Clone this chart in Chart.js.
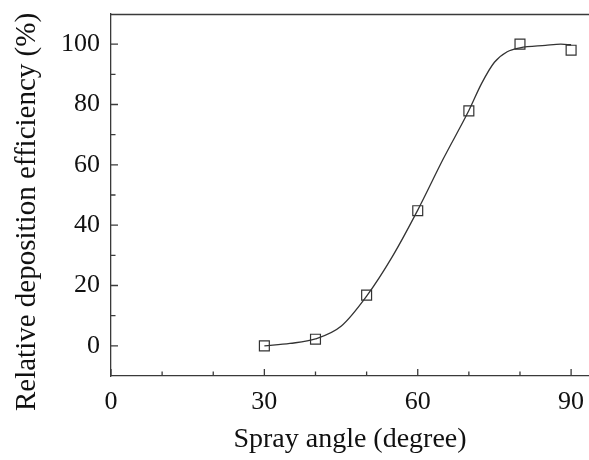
<!DOCTYPE html>
<html>
<head>
<meta charset="utf-8">
<script src="https://cdn.jsdelivr.net/npm/chart.js@4"></script>
<style>
  html, body { margin: 0; padding: 0; background: #fff; }
  #wrap { width: 589px; height: 460px; }
</style>
</head>
<body>
<div id="wrap"><canvas id="chartDeposition"></canvas></div>
<script>
// Datos medidos (marcadores)
const angles = [30, 40, 50, 60, 70, 80, 90];
const efficiency = [0, 2.2, 16.8, 44.8, 77.9, 100, 98];

// Curva ajustada
const fitAngles = [30, 35, 40, 45, 50, 55, 60, 65, 70, 72.5, 75, 77.5, 80, 85, 88, 90];
const fitValues = [0, 0.8, 2.3, 6.5, 16.5, 29.5, 45, 62, 78, 87, 94, 97.5, 98.8, 99.6, 100, 99.8];

const xMajor = [0, 30, 60, 90];
const xMinor = [10, 20, 40, 50, 70, 80];
const yMajor = [0, 20, 40, 60, 80, 100];
const yMinor = [10, 30, 50, 70, 90];

const yTitle = 'Relative deposition efficiency (%)';
const axisColor = '#3a3a3a';
const fontFamily = '"Liberation Serif", "Times New Roman", serif';

// Ticks hacia adentro, marco superior y titulo del eje Y
const frameTicks = {
  id: 'frameTicks',
  afterDraw(chart) {
    const { ctx, chartArea: a, scales: { x, y } } = chart;
    ctx.save();
    ctx.strokeStyle = axisColor;
    ctx.lineWidth = 1.3;
    ctx.beginPath();
    ctx.moveTo(a.left, a.top + 0.5);
    ctx.lineTo(a.right, a.top + 0.5);
    xMajor.forEach(v => { const p = x.getPixelForValue(v); ctx.moveTo(p, a.bottom); ctx.lineTo(p, a.bottom - 7); });
    xMinor.forEach(v => { const p = x.getPixelForValue(v); ctx.moveTo(p, a.bottom); ctx.lineTo(p, a.bottom - 4.5); });
    yMajor.forEach(v => { const p = y.getPixelForValue(v); ctx.moveTo(a.left, p); ctx.lineTo(a.left + 7, p); });
    yMinor.forEach(v => { const p = y.getPixelForValue(v); ctx.moveTo(a.left, p); ctx.lineTo(a.left + 4.5, p); });
    ctx.stroke();

    // titulo vertical (un poco mas abajo que el centro del area)
    ctx.translate(27, 212);
    ctx.rotate(-Math.PI / 2);
    ctx.fillStyle = '#111';
    ctx.font = '29px ' + fontFamily;
    ctx.textAlign = 'center';
    ctx.textBaseline = 'middle';
    ctx.fillText(yTitle, 0, 0);
    ctx.restore();
  }
};

new Chart(document.getElementById('chartDeposition'), {
  type: 'scatter',
  data: {
    datasets: [
      {
        label: 'fit',
        data: fitAngles.map((a, i) => ({ x: a, y: fitValues[i] })),
        showLine: true,
        cubicInterpolationMode: 'monotone',
        borderColor: '#333',
        borderWidth: 1.3,
        pointRadius: 0,
        order: 2
      },
      {
        label: 'measured',
        data: angles.map((a, i) => ({ x: a, y: efficiency[i] })),
        pointStyle: 'rect',
        pointRadius: 7,
        pointBackgroundColor: 'rgba(255,255,255,0)',
        pointBorderColor: '#333',
        pointBorderWidth: 1.2,
        order: 1
      }
    ]
  },
  options: {
    responsive: true,
    maintainAspectRatio: false,
    animation: false,
    layout: { autoPadding: false, padding: { top: 14, right: 0, left: 0, bottom: 0 } },
    plugins: { legend: { display: false }, tooltip: { enabled: false } },
    scales: {
      x: {
        type: 'linear',
        min: 0,
        max: 93.5,
        afterBuildTicks: s => { s.ticks = xMajor.map(v => ({ value: v })); },
        afterFit: s => { s.height = 84; s.paddingLeft = 0; s.paddingRight = 0; },
        grid: { display: false, drawTicks: false },
        border: { color: axisColor, width: 1.3 },
        ticks: { color: '#111', padding: 11, font: { family: fontFamily, size: 26 } },
        title: { display: true, text: 'Spray angle (degree)', color: '#111', padding: { top: 0, bottom: 4 }, font: { family: fontFamily, size: 28 } }
      },
      y: {
        min: -10,
        max: 110,
        afterBuildTicks: s => { s.ticks = yMajor.map(v => ({ value: v })); },
        afterFit: s => { s.width = 111; s.paddingTop = 0; s.paddingBottom = 0; },
        grid: { display: false, drawTicks: false },
        border: { color: axisColor, width: 1.3 },
        ticks: { color: '#111', padding: 11, font: { family: fontFamily, size: 26 } },
        title: { display: false }
      }
    }
  },
  plugins: [frameTicks]
});
</script>
</body>
</html>
